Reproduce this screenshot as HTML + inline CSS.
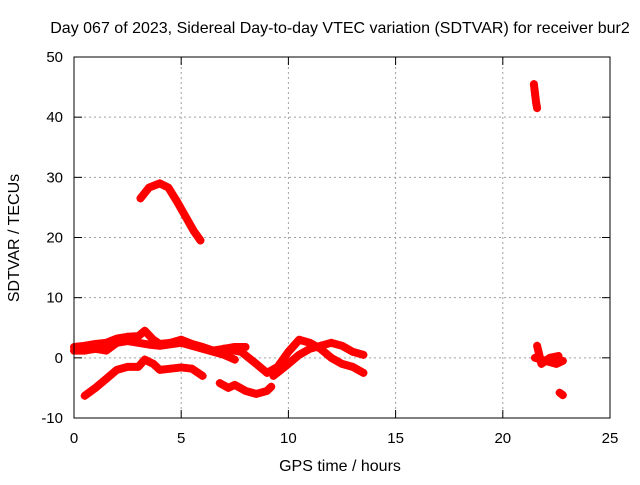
<!DOCTYPE html>
<html><head><meta charset="utf-8"><style>
body{margin:0;background:#fff}
svg text{font-family:"Liberation Sans",sans-serif;font-size:15px;fill:#000}
svg text.big{font-size:16px}
</style></head><body>
<svg id="c" width="640" height="480">
<text class="big" x="340" y="33" text-anchor="middle">Day 067 of 2023, Sidereal Day-to-day VTEC variation (SDTVAR) for receiver bur2</text>
<text class="big" x="340" y="471" text-anchor="middle">GPS time / hours</text>
<text class="big" transform="translate(19,238) rotate(-90)" text-anchor="middle">SDTVAR / TECUs</text>
<g id="grid"></g><g id="series"></g>
<rect x="74" y="57" width="536" height="361" fill="none" stroke="#000" stroke-width="1"/>
</svg>
<script>
const xTicks=[0,5,10,15,20,25];
const yTicks=[-10,0,10,20,30,40,50];
const trackA=[[3.1,26.5],[3.5,28.3],[4,29],[4.4,28.3],[4.8,26],[5.2,23.5],[5.6,21],[5.9,19.5]];
const trackB=[[0,1.8],[0.5,2],[1,2.3],[1.5,2.5],[2,3.2],[2.5,3.5],[3,3.6],[3.3,4.5],[3.7,3],[4,2.3],[4.5,2.5],[5,3],[5.5,2.3],[6,1.8],[6.5,1.2],[7,1.5],[7.5,1.8],[8,1.8]];
const trackB2=[[0,1.2],[0.5,1.2],[1,1.5],[1.5,1.2],[2,2.5],[2.5,2.8],[3,2.5],[3.5,2.2],[4,2],[5,2.5],[6,1.5],[7,0.5],[7.5,-0.3]];
const trackC=[[0.5,-6.3],[1,-5],[1.5,-3.5],[2,-2],[2.5,-1.5],[3,-1.5],[3.3,-0.3],[3.7,-1],[4,-2],[4.5,-1.8],[5,-1.6],[5.5,-1.8],[6,-3]];
const trackD=[[6.8,-4.2],[7.2,-5],[7.5,-4.5],[8,-5.5],[8.5,-6],[9,-5.5],[9.2,-4.8]];
const trackE=[[7,1.5],[7.8,1],[8.5,-1],[9,-2.5],[9.5,-1.5],[10,1],[10.5,3],[11,2.5],[11.5,1.5],[12,0],[12.5,-1],[13,-1.5],[13.5,-2.5]];
const trackF=[[9.3,-3],[10,-1],[10.5,0.5],[11,1.5],[11.5,2],[12,2.5],[12.5,2],[13,1],[13.5,0.5]];
const trackG=[[21.45,45.5],[21.5,44],[21.55,42.5],[21.6,41.5]];
const trackH=[[21.5,0],[22,-0.5],[22.5,-1],[22.8,-0.5]];
const trackH2=[[21.6,2],[21.7,0.5],[21.8,-1],[22.2,0],[22.6,0.3]];
const trackI=[[22.65,-5.8],[22.8,-6.2]];
const tracks=[trackA,trackB,trackB2,trackC,trackD,trackE,trackF,trackG,trackH,trackH2,trackI];
const X=v=>74+v*536/25, Y=v=>418-(v+10)*361/60;
const NS='http://www.w3.org/2000/svg', svg=document.getElementById('c');
const g=document.getElementById('grid'), s=document.getElementById('series');
function mk(t,a,p){const e=document.createElementNS(NS,t);for(const k in a)e.setAttribute(k,a[k]);p.appendChild(e);return e;}
xTicks.forEach(v=>{const x=X(v);
 if(v>0&&v<25){const l=mk('line',{x1:x,x2:x,y1:57,y2:418,stroke:'#a0a0a0','stroke-dasharray':'2,3'},g);
 
 }
 mk('line',{x1:x,x2:x,y1:418,y2:410,stroke:'#000'},g);mk('line',{x1:x,x2:x,y1:57,y2:65,stroke:'#000'},g);
 const t=mk('text',{x:x,y:443,'text-anchor':'middle'},g);t.textContent=v;
 
 });
yTicks.forEach(v=>{const y=Y(v);
 if(v>-10&&v<50){const l=mk('line',{x1:74,x2:610,y1:y,y2:y,stroke:'#a0a0a0','stroke-dasharray':'2,3'},g);
 
 }
 mk('line',{x1:74,x2:82,y1:y,y2:y,stroke:'#000'},g);mk('line',{x1:610,x2:602,y1:y,y2:y,stroke:'#000'},g);
 const t=mk('text',{x:63,y:y+5,'text-anchor':'end'},g);t.textContent=v;
 
 });
tracks.forEach(tr=>{
 const p=mk('polyline',{points:tr.map(d=>X(d[0])+','+Y(d[1])).join(' '),fill:'none',stroke:'#f00','stroke-width':8,'stroke-linejoin':'round','stroke-linecap':'round'},s);
 
 
 tr.forEach(d=>{const x=X(d[0]),y=Y(d[1]);
  mk('path',{d:`M${x-4},${y}H${x+4}M${x},${y-4}V${y+4}`,stroke:'#f00','stroke-width':1},s);});
});
</script>
</body></html>
